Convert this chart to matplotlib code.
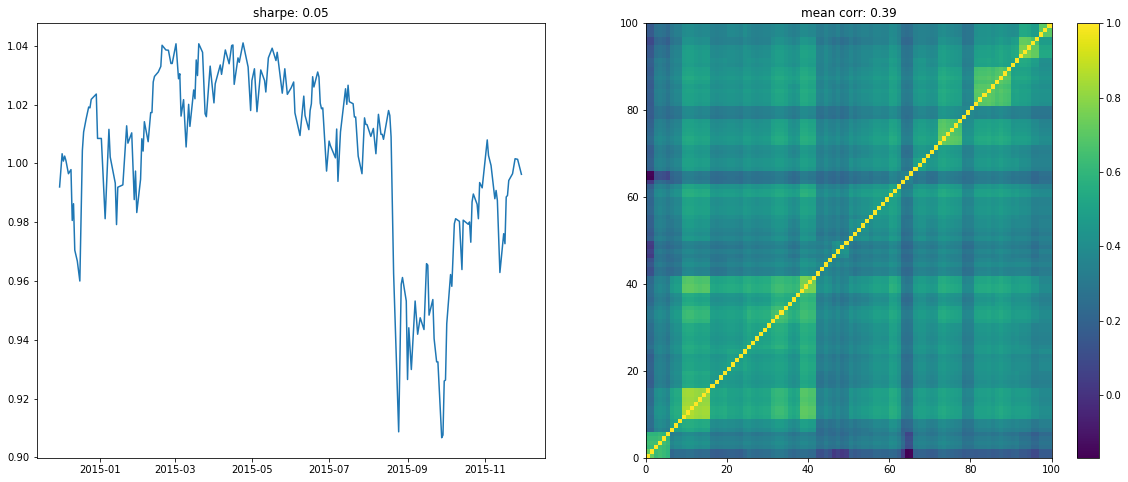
import numpy as np
import pandas as pd
import matplotlib
matplotlib.use('Agg')
import matplotlib.pyplot as plt
import matplotlib.dates as mdates

# days since 2015-01-01
days = [-32, -30, -29, -28, -27, -25, -23, -22, -21, -20, -18, -16, -14, -13, -11, -9, -8, -7, -3, -2,
        1, 4, 7, 8, 12, 13, 14, 18, 21, 22, 25, 27, 28, 29, 32, 33, 34, 35, 38, 40,
        41, 42, 43, 46, 48, 49, 52, 54, 56, 57, 60, 62, 63, 64, 66, 68, 70, 71, 74, 75,
        76, 77, 78, 81, 83, 84, 87, 90, 91, 95, 96, 99, 102, 104, 105, 106, 109, 110, 113, 117,
        119, 120, 122, 124, 127, 130, 131, 133, 136, 139, 140, 144, 146, 148, 151, 153, 154, 158, 161, 162,
        165, 166, 167, 168, 169, 172, 173, 174, 175, 176, 179, 181, 182, 186, 187, 188, 190, 194, 195, 196,
        197, 200, 201, 202, 204, 207, 209, 210, 211, 214, 216, 218, 220, 222, 223, 224, 228, 229, 230, 232,
        236, 238, 239, 242, 243, 244, 246, 249, 251, 253, 256, 258, 259, 260, 263, 264, 266, 267, 270, 271,
        272, 273, 274, 277, 278, 280, 281, 284, 286, 287, 291, 292, 293, 294, 295, 298, 299, 300, 302, 306,
        307, 309, 312, 313, 314, 316, 319, 320, 321, 322, 323, 326, 328, 330, 333]

returns = [0.9920, 1.0033, 1.0008, 1.0025, 1.0010, 0.9965, 0.9979, 0.9806, 0.9863, 0.9705,
           0.9668, 0.9600, 1.0044, 1.0107, 1.0152, 1.0192, 1.0189, 1.0218, 1.0236, 1.0085,
           1.0085, 0.9812, 1.0116, 1.0022, 0.9933, 0.9792, 0.9919, 0.9927, 1.0128, 1.0069,
           1.0104, 0.9877, 0.9974, 0.9833, 0.9946, 1.0084, 1.0042, 1.0142, 1.0074, 1.0173,
           1.0173, 1.0277, 1.0296, 1.0311, 1.0330, 1.0402, 1.0386, 1.0385, 1.0340, 1.0340,
           1.0407, 1.0288, 1.0305, 1.0161, 1.0217, 1.0056, 1.0201, 1.0126, 1.0250, 1.0220,
           1.0352, 1.0299, 1.0407, 1.0378, 1.0169, 1.0159, 1.0331, 1.0206, 1.0271, 1.0335,
           1.0303, 1.0386, 1.0339, 1.0401, 1.0403, 1.0269, 1.0359, 1.0344, 1.0410, 1.0328,
           1.0180, 1.0282, 1.0322, 1.0176, 1.0318, 1.0282, 1.0243, 1.0359, 1.0392, 1.0350,
           1.0378, 1.0239, 1.0322, 1.0235, 1.0257, 1.0277, 1.0172, 1.0095, 1.0229, 1.0163,
           1.0115, 1.0180, 1.0203, 1.0295, 1.0260, 1.0311, 1.0294, 1.0205, 1.0186, 1.0189,
           0.9974, 1.0076, 1.0061, 1.0019, 1.0117, 0.9939, 1.0107, 1.0254, 1.0201, 1.0266,
           1.0210, 1.0203, 1.0158, 1.0158, 1.0025, 0.9965, 1.0155, 1.0133, 1.0132, 1.0092,
           1.0119, 1.0033, 1.0167, 1.0099, 1.0099, 1.0082, 1.0180, 1.0163, 1.0090, 0.9625,
           0.9087, 0.9589, 0.9612, 0.9532, 0.9265, 0.9441, 0.9299, 0.9532, 0.9419, 0.9475,
           0.9435, 0.9659, 0.9654, 0.9484, 0.9537, 0.9404, 0.9325, 0.9325, 0.9067, 0.9076,
           0.9260, 0.9263, 0.9455, 0.9622, 0.9582, 0.9795, 0.9812, 0.9803, 0.9639, 0.9807,
           0.9793, 0.9801, 0.9732, 0.9869, 0.9896, 0.9861, 0.9812, 0.9935, 0.9917, 1.0080,
           1.0027, 0.9993, 0.9880, 0.9908, 0.9874, 0.9629, 0.9761, 0.9727, 0.9886, 0.9891,
           0.9942, 0.9965, 1.0016, 1.0014, 0.9963]

# the heatmap is read as blocks of similar colour (lower triangle, symmetric)
block_edges = [0, 2, 6, 9, 16, 20, 25, 31, 35, 38, 42, 46, 50, 55, 60, 63, 64, 66, 69, 72, 78, 81, 86, 90, 92, 97, 100]
corr_rows = [
    [.72],
    [.62, .62],
    [.25, .38, .52],
    [.22, .38, .52, .78],
    [.20, .34, .42, .52, .50],
    [.20, .33, .40, .48, .48, .50],
    [.25, .34, .42, .50, .48, .48, .52],
    [.27, .35, .44, .56, .48, .48, .54, .60],
    [.25, .34, .42, .52, .46, .46, .50, .56, .58],
    [.22, .33, .46, .64, .52, .52, .54, .58, .60, .72],
    [.15, .30, .30, .37, .34, .36, .38, .38, .38, .42, .42],
    [.05, .28, .30, .33, .33, .33, .35, .35, .33, .36, .38, .44],
    [.18, .32, .32, .42, .38, .37, .38, .40, .37, .42, .35, .33, .42],
    [.20, .33, .36, .46, .42, .42, .42, .44, .42, .46, .37, .34, .40, .44],
    [.18, .33, .38, .48, .44, .43, .45, .46, .46, .50, .37, .35, .42, .44, .46],
    [.06, .26, .25, .33, .30, .30, .32, .32, .30, .33, .30, .27, .30, .32, .33, .42],
    [-.13, .14, .27, .32, .30, .30, .32, .32, .30, .32, .30, .28, .32, .32, .35, .40, .42],
    [.18, .32, .35, .44, .40, .40, .42, .42, .42, .44, .37, .34, .40, .42, .43, .32, .32, .48],
    [.18, .32, .34, .44, .39, .39, .41, .42, .40, .44, .37, .34, .38, .42, .43, .30, .30, .44, .44],
    [.20, .33, .36, .46, .42, .42, .43, .48, .44, .50, .38, .36, .40, .44, .46, .34, .34, .46, .46, .66],
    [.18, .28, .30, .36, .34, .34, .35, .36, .35, .37, .31, .29, .34, .36, .36, .31, .31, .36, .36, .42, .40],
    [.15, .30, .35, .44, .42, .42, .43, .47, .45, .49, .38, .34, .38, .41, .43, .33, .33, .42, .42, .48, .36, .66],
    [.15, .30, .36, .46, .42, .42, .43, .47, .47, .49, .37, .35, .38, .41, .43, .33, .33, .42, .42, .48, .36, .62, .64],
    [.18, .30, .36, .44, .42, .40, .42, .44, .44, .46, .38, .34, .36, .40, .42, .32, .32, .42, .40, .44, .34, .48, .48, .50],
    [.14, .26, .35, .44, .40, .40, .40, .44, .44, .47, .38, .33, .36, .38, .40, .31, .31, .38, .38, .44, .35, .46, .48, .52, .76],
    [.18, .28, .35, .38, .38, .40, .38, .38, .38, .38, .37, .35, .36, .36, .36, .31, .31, .35, .36, .38, .32, .42, .42, .42, .54, .74],
]

# brighter or darker single rows/columns
stripes = [0, 0, 0, .02, 0, -.03, -.03, 0, 0, .03,
           .04, .04, .02, .01, .02, .02, -.02, -.03, -.02, -.01,
           0, 0, -.01, -.02, .02, .01, -.01, -.02, -.01, 0,
           0, .01, .03, .03, .01, -.01, -.03, -.01, .03, .03,
           .01, .01, -.03, -.04, 0, -.03, -.02, .01, -.03, -.01,
           0, -.03, -.01, .01, .01, -.01, .02, .02, .01, .01,
           .05, .04, 0, -.03, -.04, -.03, 0, .02, .02, 0,
           -.01, 0, .03, .04, .02, .01, 0, -.01, -.02, -.01,
           -.01, .01, .02, .02, .03, .01, .02, .04, .02, .01,
           0, .01, .01, .01, 0, -.05, -.05, -.02, -.02, -.02]

n = len(corr_rows)
blocks = np.zeros((n, n))
for i, row in enumerate(corr_rows):
    for j, v in enumerate(row):
        blocks[i, j] = v
        blocks[j, i] = v
sizes = np.diff(block_edges)
corr = np.repeat(np.repeat(blocks, sizes, axis=0), sizes, axis=1)
stripes = np.array(stripes)
corr = corr + stripes[:, None] + stripes[None, :]
np.fill_diagonal(corr, 1.0)

dates = pd.Timestamp('2015-01-01') + pd.to_timedelta(days, unit='D')

W, H = 1128.0, 482.0
fig = plt.figure(figsize=(W / 72, H / 72), dpi=72)


def box(x0, x1, y0, y1):
    return [x0 / W, 1 - y1 / H, (x1 - x0) / W, (y1 - y0) / H]


ax1 = fig.add_axes(box(36.5, 544.5, 23.5, 458))
ax1.plot(dates, returns, color='#1f77b4', lw=1.5)
ax1.set_ylim(0.8998, 1.0476)
ax1.set_yticks([0.90, 0.92, 0.94, 0.96, 0.98, 1.00, 1.02, 1.04])
ax1.xaxis.set_major_locator(mdates.MonthLocator(bymonth=[1, 3, 5, 7, 9, 11]))
ax1.xaxis.set_major_formatter(mdates.DateFormatter('%Y-%m'))
ax1.set_title('sharpe: 0.05', fontsize=12)

ax2 = fig.add_axes(box(645.5, 1051.5, 23.5, 458))
mesh = ax2.pcolormesh(np.arange(101), np.arange(101), corr, cmap='viridis', vmin=-0.17, vmax=1.0)
ax2.set_xticks(range(0, 101, 20))
ax2.set_yticks(range(0, 101, 20))
ax2.set_title('mean corr: 0.39', fontsize=12)

cax = fig.add_axes(box(1076.5, 1098.5, 23.5, 458))
cb = fig.colorbar(mesh, cax=cax)
cb.set_ticks([0.0, 0.2, 0.4, 0.6, 0.8, 1.0])

fig.savefig('out.png', dpi=72, facecolor='white')
